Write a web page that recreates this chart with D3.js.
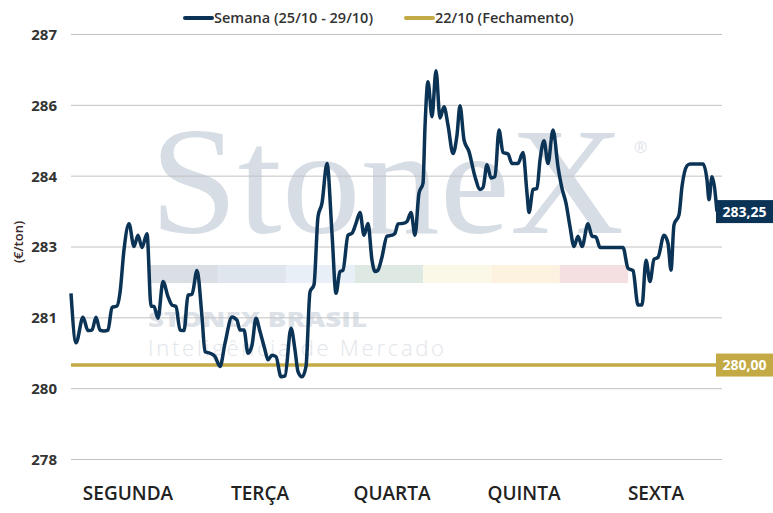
<!DOCTYPE html>
<html>
<head>
<meta charset="utf-8">
<script src="https://cdn.jsdelivr.net/npm/d3@7"></script>
<style>
  body { margin: 0; background: #fff; }
  #graph { width: 773px; height: 513px; }
  text { font-family: "Open Sans", "Noto Sans", sans-serif; }
</style>
</head>
<body>
<div id="graph"></div>
<script>
// positions le long de la semaine (indice d'observation)
var indices = [
  0,5,12,17,21,25,29,33,37,41,46,49,53,58,63,67,71,76,80,83,87,92,97,101,105,109,113,117,121,126,
  131,134,139,144,149,154,161,166,169,173,177,181,185,189,194,197,201,205,210,214,220,224,227,231,235,239,243,247,251,256,
  261,265,269,272,277,281,285,289,293,297,301,304,307,311,316,321,324,327,332,336,
  340,344,348,352,354,357,361,365,369,373,377,382,386,389,393,398,404,409,412,416,
  420,424,428,432,437,441,447,452,456,458,462,466,469,473,477,482,487,491,495,499,
  503,507,511,517,521,525,529,537,552,557,562,567,571,575,579,583,587,593,597,600,
  603,608,611,616,619,632,636,638,641,646
];
var semana = [
  281.52,280.47,281.01,280.73,280.74,281.01,280.74,280.72,280.74,281.22,281.25,281.53,282.44,282.99,282.51,282.75,282.49,282.78,281.25,281.24,280.99,281.77,281.45,281.27,281.24,280.74,280.73,281.48,281.50,282.00,
  281.02,280.28,280.25,280.18,279.97,280.46,281.02,280.95,280.74,280.74,280.25,280.42,280.99,280.71,280.32,280.11,280.21,280.18,279.75,279.77,280.78,280.32,279.86,279.75,279.97,281.55,281.70,283.14,283.43,284.27,
  282.79,281.52,281.98,282.01,282.75,282.79,283.00,283.23,282.75,283.00,282.22,281.98,282.01,282.29,282.73,282.75,282.79,282.99,283.00,283.04,
  283.23,282.75,283.64,283.85,285.05,286.00,285.26,286.23,285.23,285.47,285.08,284.48,284.87,285.49,284.77,284.52,283.99,283.72,283.76,284.24,
  283.96,283.99,284.98,284.50,284.47,284.27,284.27,284.50,283.64,283.23,283.72,283.74,284.34,284.75,284.27,284.98,284.20,283.74,283.43,282.93,
  282.51,282.73,282.51,282.99,282.73,282.71,282.49,282.49,282.49,282.05,282.00,281.27,281.27,282.22,281.77,282.24,282.28,282.75,282.58,282.01,
  282.97,283.18,283.78,284.22,284.26,284.26,283.92,283.50,283.99,283.25
];
var fechamento = 280.00;
var dias = ["SEGUNDA", "TERÇA", "QUARTA", "QUINTA", "SEXTA"];
var yTicks = [278, 279.5, 281, 282.5, 284, 285.5, 287];
var yTickLabels = ["278", "280", "281", "283", "284", "286", "287"];
var legendas = ["Semana (25/10 - 29/10)", "22/10 (Fechamento)"];

var donnees = indices.map(function (d, i) { return {i: d, v: semana[i]}; });

var couleur_semana = "#0b3356",
    couleur_fech = "#c4aa45",
    fmt = function (v) { return v.toFixed(2).replace(".", ","); };

var svg = d3.select("#graph").append("svg")
    .attr("width", 773).attr("height", 513);

var x = d3.scaleLinear().domain([0, 646]).range([71, 717]),
    xDias = d3.scaleBand().domain(dias).range([62, 722]),
    y = d3.scaleLinear().domain([278, 287]).range([459.5, 34.5]);

// filigrane StoneX
var wm = svg.append("g");
wm.append("text")
    .attr("x", 150).attr("y", 233)
    .attr("textLength", 474).attr("lengthAdjust", "spacingAndGlyphs")
    .style("font-family", "'Liberation Serif', 'DejaVu Serif', serif")
    .style("font-size", "152px")
    .style("fill", "#d7dde5")
    .text("StoneX");
wm.append("text")
    .attr("x", 634).attr("y", 153)
    .style("font-size", "16px").style("fill", "#dfe4ea")
    .text("®");
var bandes = ["#dadfe5", "#e0e6ed", "#e9eff7", "#dfe9e3", "#fbf8e8", "#fdf1df", "#f4e0e1"];
wm.selectAll(".bande").data(bandes).enter().append("rect")
    .attr("x", function (d, i) { return 150 + i * 68.3; })
    .attr("y", 265).attr("width", 68.3).attr("height", 18)
    .attr("fill", function (d) { return d; });
wm.append("text")
    .attr("x", 148).attr("y", 327)
    .attr("textLength", 219).attr("lengthAdjust", "spacingAndGlyphs")
    .style("font-size", "21px").style("font-weight", 800)
    .style("fill", "#dde2e8")
    .text("STONEX BRASIL");
wm.append("text")
    .attr("x", 148).attr("y", 356)
    .attr("textLength", 296).attr("lengthAdjust", "spacing")
    .style("font-size", "22px").style("font-weight", 300)
    .style("fill", "#e2e6eb")
    .text("Inteligência de Mercado");

// grille + axe Y
svg.append("g").selectAll("line").data(yTicks).enter().append("line")
    .attr("x1", 71).attr("x2", 722)
    .attr("y1", function (d) { return y(d); })
    .attr("y2", function (d) { return y(d); })
    .style("stroke", "#c2c2c2").style("stroke-width", 1);
svg.append("g").selectAll("text").data(yTicks).enter().append("text")
    .attr("x", 57)
    .attr("y", function (d) { return y(d); })
    .attr("dy", "0.36em")
    .style("text-anchor", "end")
    .style("font-size", "15px").style("font-weight", 700)
    .style("fill", "#333")
    .text(function (d, i) { return yTickLabels[i]; });
svg.append("text")
    .attr("transform", "translate(23,242) rotate(-90)")
    .style("text-anchor", "middle")
    .style("font-size", "13px").style("font-weight", 600)
    .style("fill", "#3c2b2b")
    .text("(€/ton)");

// axe X (jours)
svg.append("g").selectAll("text").data(dias).enter().append("text")
    .attr("x", function (d) { return xDias(d) + xDias.bandwidth() / 2; })
    .attr("y", 500)
    .style("text-anchor", "middle")
    .style("font-size", "19px").style("font-weight", 600)
    .style("fill", "#222")
    .text(function (d) { return d; });

// ligne de fechamento
svg.append("line")
    .attr("x1", 71).attr("x2", 717)
    .attr("y1", y(fechamento)).attr("y2", y(fechamento))
    .style("stroke", couleur_fech).style("stroke-width", 3.5);

// série de la semaine
svg.append("path")
    .datum(donnees)
    .attr("fill", "none")
    .attr("stroke", couleur_semana)
    .attr("stroke-width", 3.5)
    .attr("stroke-linejoin", "round")
    .attr("d", d3.line()
        .curve(d3.curveMonotoneX)
        .x(function (d) { return x(d.i); })
        .y(function (d) { return y(d.v); }));

// étiquettes de valeur
var etiquettes = [
    {v: semana[semana.length - 1], c: couleur_semana},
    {v: fechamento, c: couleur_fech}
];
var et = svg.selectAll(".etiq").data(etiquettes).enter().append("g")
    .attr("transform", function (d) { return "translate(716," + y(d.v) + ")"; });
et.append("rect")
    .attr("x", 0).attr("y", -11.5).attr("width", 57).attr("height", 23)
    .attr("fill", function (d) { return d.c; });
et.append("text")
    .attr("x", 28.5).attr("dy", "0.36em")
    .style("text-anchor", "middle")
    .style("font-size", "14px").style("font-weight", 700)
    .style("fill", "#fff")
    .text(function (d) { return fmt(d.v); });

// légende
var leg = svg.selectAll(".leg").data(legendas).enter().append("g")
    .attr("transform", function (d, i) { return "translate(" + (i === 0 ? 185 : 406) + ",18)"; });
leg.append("line")
    .attr("x1", 0).attr("x2", 27)
    .style("stroke", function (d, i) { return i === 0 ? couleur_semana : couleur_fech; })
    .style("stroke-width", 4).style("stroke-linecap", "round");
leg.append("text")
    .attr("x", 29).attr("dy", "0.35em")
    .style("font-size", "14.5px").style("font-weight", 600)
    .style("fill", "#333")
    .text(function (d) { return d; });
</script>
</body>
</html>
